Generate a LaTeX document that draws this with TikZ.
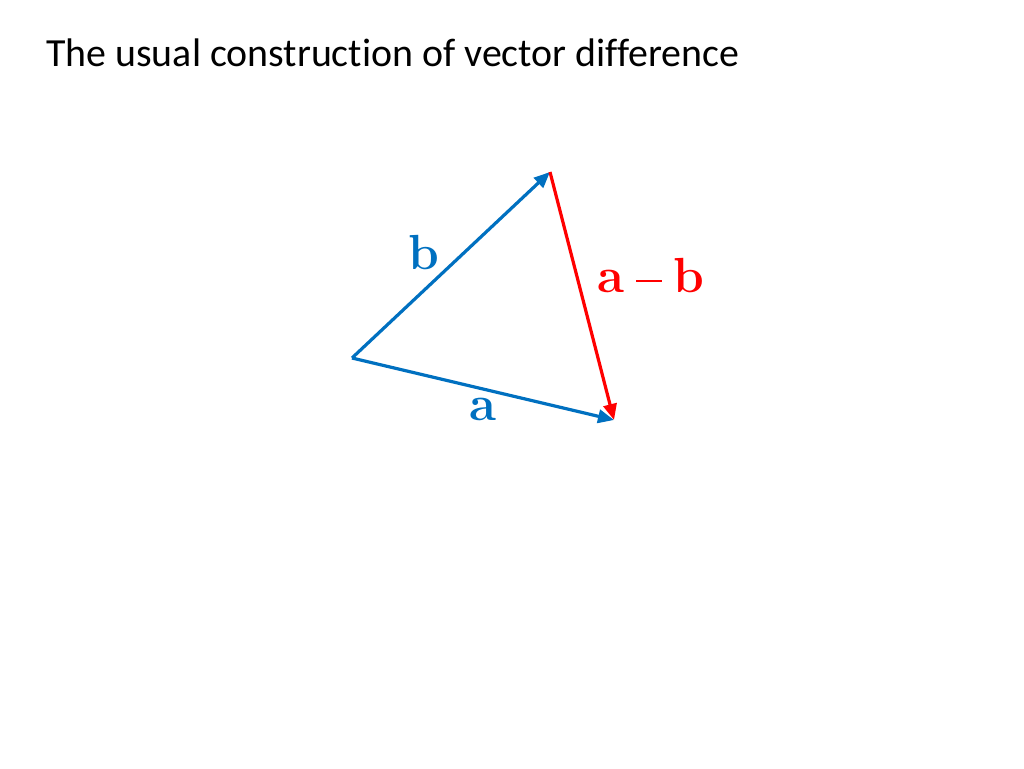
\documentclass[tikz,border=0pt]{standalone}
\usepackage{fontspec}
\setmainfont[Ligatures=NoCommon]{Carlito}
\usetikzlibrary{arrows.meta}
\definecolor{vblue}{RGB}{0,112,192}
\definecolor{vred}{RGB}{255,0,0}
\newfontfamily\labfont{Latin Modern Roman}
\tikzset{
  vec/.style={line width=2.4pt, -{Triangle[length=12pt,width=10pt]}},
  lab/.style={font=\labfont\fontsize{37}{40}\selectfont\bfseries, inner sep=0pt},
}
\begin{document}
\begin{tikzpicture}[x=0.75pt,y=-0.75pt]
\useasboundingbox (0,0) rectangle (1024,768);
\node[anchor=base west, inner sep=0pt, font=\fontsize{29.9}{32}\selectfont] (title) at (46,66) {The usual construction of vector difference};
\coordinate (O) at (352,358);
\coordinate (B) at (550,172);
\coordinate (A) at (614,420);
\draw[vec, vblue] (O) -- (B);
\draw[vec, vblue] (O) -- (A);
\draw[vec, vred] (B) -- (A);
\node[lab, text=vblue] (lb) at (424,253) {b};
\node[lab, text=vblue] (la) at (483,409) {a};
\node[lab, text=vred] (lab) at (651,276) {a\kern 9pt\rule[8pt]{19pt}{2pt}\kern 9pt b};
\end{tikzpicture}
\end{document}
